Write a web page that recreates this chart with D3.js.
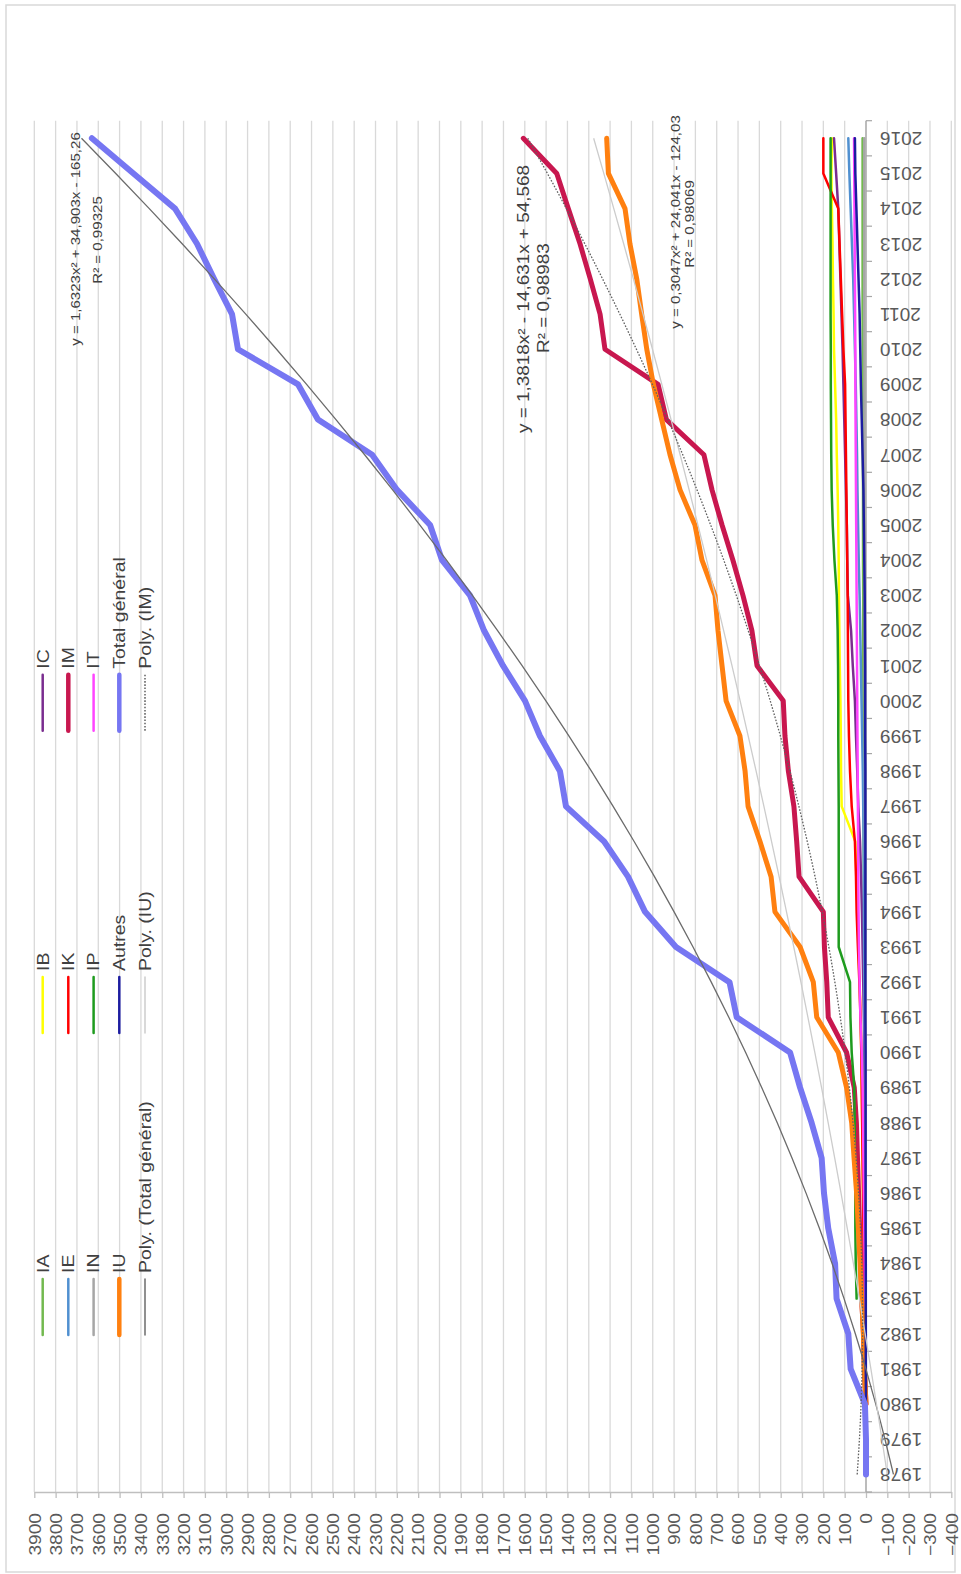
<!DOCTYPE html>
<html>
<head>
<meta charset="utf-8">
<script src="https://cdn.jsdelivr.net/npm/d3@7"></script>
<style>
body { margin: 0; background: #fff; }
svg { display: block; }
text { font-family: "Liberation Sans", Arial, sans-serif; }
</style>
</head>
<body>
<svg id="chart"></svg>
<script>
// categories (x of the original chart, shown vertically)
var years = [1978, 1979, 1980, 1981, 1982, 1983, 1984, 1985, 1986, 1987,
    1988, 1989, 1990, 1991, 1992, 1993, 1994, 1995, 1996, 1997,
    1998, 1999, 2000, 2001, 2002, 2003, 2004, 2005, 2006, 2007,
    2008, 2009, 2010, 2011, 2012, 2013, 2014, 2015, 2016];

// series, one value per year (null = no point)
var IA = [null, null, 0, 2, 3, 4, 5, 5, 6, 6, 7, 7, 8, 8, 9, 9, 10, 10, 11, 11,
    12, 12, 12, 13, 13, 13, 14, 14, 14, 15, 15, 15, 15, 16, 16, 16, 16, 16, 16];
var IB = [null, null, 0, 3, 5, 8, 10, 12, 14, 16, 18, 20, 22, 25, 30, 35, 40, 45, 50, 114,
    117, 118, 120, 123, 125, 127, 128, 130, 133, 137, 140, 145, 150, 152, 155, 157, 160, 162, 160];
var IC = [null, null, 0, 1, 1, 2, 2, 3, 3, 4, 5, 6, 8, 10, 13, 16, 19, 23, 28, 36,
    41, 47, 52, 62, 70, 85, 88, 90, 94, 98, 102, 106, 110, 115, 120, 125, 130, 140, 150];
var IE = [null, null, 0, 1, 1, 2, 2, 3, 3, 4, 4, 5, 6, 7, 8, 9, 10, 10, 11, 13,
    15, 18, 21, 24, 27, 30, 34, 37, 40, 42, 45, 48, 52, 56, 60, 66, 72, 78, 83];
var IK = [null, null, 0, 4, 6, 8, 10, 12, 14, 16, 18, 20, 22, 26, 31, 38, 44, 47, 52, 67,
    75, 80, 83, 84, 85, 86, 88, 90, 92, 94, 96, 98, 106, 112, 118, 124, 130, 200, 200];
var IM = [null, null, 0, 8, 12, 20, 25, 30, 35, 40, 45, 55, 91, 177, 184, 195, 200, 314, 325, 338,
    364, 380, 388, 511, 535, 577, 624, 675, 722, 760, 936, 975, 1224, 1247, 1293, 1341, 1396, 1450, 1607];
var IN = [null, null, 0, 1, 1, 1, 2, 2, 2, 2, 3, 3, 3, 3, 4, 4, 4, 4, 5, 5,
    5, 5, 5, 6, 6, 6, 6, 6, 7, 7, 7, 7, 7, 8, 8, 8, 8, 8, 8];
var IP = [null, null, null, null, null, 44, 48, 50, 50, 52, 53, 55, 67, 73, 75, 128, 128, 128, 128, 128,
    129, 130, 130, 131, 133, 137, 148, 156, 161, 163, 164, 165, 165, 166, 166, 166, 166, 166, 166];
var IT = [null, null, 0, 2, 3, 5, 6, 8, 10, 12, 14, 16, 20, 26, 30, 33, 35, 36, 37, 38,
    39, 40, 41, 42, 43, 44, 45, 46, 47, 48, 49, 50, 50, 51, 52, 53, 54, 55, 56];
var IU = [null, null, 0, 8, 12, 20, 28, 36, 44, 56, 67, 91, 130, 231, 247, 309, 427, 445, 497, 553,
    567, 591, 656, 675, 694, 708, 769, 802, 872, 919, 958, 997, 1028, 1052, 1075, 1107, 1130, 1208, 1216];
var Autres = [null, null, 0, 1, 1, 1, 1, 2, 2, 2, 2, 2, 2, 3, 3, 3, 3, 3, 3, 3,
    3, 4, 4, 4, 5, 6, 8, 10, 12, 16, 20, 24, 27, 30, 35, 40, 45, 50, 52];
var Total = [0, 0, 5, 72, 83, 138, 145, 177, 197, 208, 255, 309, 356, 606, 640, 891, 1036, 1116, 1228, 1407,
    1435, 1529, 1599, 1702, 1791, 1857, 1988, 2044, 2199, 2316, 2570, 2663, 2945, 2973, 3057, 3137, 3240, 3435, 3630];

// polynomial trendlines as printed on the chart (a, b, c of a*x^2 + b*x + c, x = 1..39)
var polyTotal = [1.6323, 34.903, -165.26];
var polyIU = [0.3047, 24.041, -124.03];
var polyIM = [1.3818, -14.631, 54.568];

var seriesNames = ["IA", "IB", "IC", "IE", "IK", "IM", "IN", "IP", "IT", "IU", "Autres", "Total général"];
var seriesValues = [IA, IB, IC, IE, IK, IM, IN, IP, IT, IU, Autres, Total];
var seriesColors = ["#72b94f", "#ffff00", "#7a2d8f", "#5090d0", "#ff0000", "#c8174f",
    "#a6a6a6", "#1e9b1e", "#ff44ff", "#ff8010", "#1c1ca0", "#7676f2"];
var seriesWidths = [2.5, 2.5, 2.5, 2.5, 2.5, 5, 2.5, 2.5, 2.5, 5, 2.5, 6];

var trendNames = ["Poly. (Total général)", "Poly. (IU)", "Poly. (IM)"];
var trendCoefs = [polyTotal, polyIU, polyIM];
var trendColors = ["#6b6b6b", "#cccccc", "#606060"];
var trendDash = [null, null, "1.6,1.6"];

var trendLabels = [
    ["y = 1,6323x² + 34,903x - 165,26", "R² = 0,99325"],
    ["y = 1,3818x² - 14,631x + 54,568", "R² = 0,98983"],
    ["y = 0,3047x² + 24,041x - 124,03", "R² = 0,98069"]
];

var svgWidth = 961, svgHeight = 1574;
var plot = { left: 34.3, right: 951.3, top: 120.7, bottom: 1492 };
var stretch = 1.16;

var svg = d3.select("#chart")
    .attr("width", svgWidth)
    .attr("height", svgHeight);

svg.append("rect")
    .attr("x", 6).attr("y", 5)
    .attr("width", 949).attr("height", 1567)
    .attr("fill", "#fff")
    .attr("stroke", "#d9d9d9")
    .attr("stroke-width", 1.5);

// values run horizontally (3900 on the left), years run vertically (1978 at the bottom)
var x = d3.scaleLinear()
    .domain([-400, 3900])
    .range([plot.right, plot.left]);

var y = d3.scalePoint()
    .domain(years)
    .range([plot.bottom, plot.top])
    .padding(0.5);

var valueTicks = d3.range(-400, 3901, 100);

// gridlines
svg.append("g")
    .selectAll("line")
    .data(valueTicks)
    .enter().append("line")
    .attr("x1", function(d) { return x(d); })
    .attr("x2", function(d) { return x(d); })
    .attr("y1", plot.top)
    .attr("y2", plot.bottom)
    .attr("stroke", "#d9d9d9")
    .attr("stroke-width", 1.3);

// value axis
var vAxis = svg.append("g")
    .attr("transform", "translate(0," + plot.bottom + ")")
    .call(d3.axisBottom(x).tickValues(valueTicks).tickSize(6).tickSizeOuter(0).tickFormat(d3.format("d")));
vAxis.select(".domain").attr("stroke", "#bfbfbf").attr("stroke-width", 1.3);
vAxis.selectAll(".tick line").attr("stroke", "#bfbfbf").attr("stroke-width", 1.3);
vAxis.selectAll(".tick text")
    .attr("x", 0).attr("y", 0).attr("dy", "0.35em")
    .attr("text-anchor", "end")
    .attr("transform", "translate(0,21) rotate(-90) scale(" + stretch + ",1)")
    .attr("fill", "#595959")
    .style("font-size", "16.5px");

// year axis, crossing at 0
var step = y.step();
var yAxis = svg.append("g")
    .attr("transform", "translate(" + x(0) + ",0)")
    .call(d3.axisRight(y).tickSize(0).tickSizeOuter(0));
yAxis.select(".domain").remove();
yAxis.append("line")
    .attr("x1", 0).attr("x2", 0)
    .attr("y1", plot.top).attr("y2", plot.bottom)
    .attr("stroke", "#a6a6a6").attr("stroke-width", 1.3);
yAxis.append("g")
    .selectAll("line")
    .data(years.concat([null]))
    .enter().append("line")
    .attr("x1", 0).attr("x2", 6)
    .attr("y1", function(d, i) { return plot.bottom - i * step; })
    .attr("y2", function(d, i) { return plot.bottom - i * step; })
    .attr("stroke", "#a6a6a6").attr("stroke-width", 1.2);
yAxis.selectAll(".tick text")
    .attr("x", 0).attr("dy", "0.35em")
    .attr("text-anchor", "end")
    .attr("transform", "translate(14,0) rotate(180)")
    .attr("fill", "#595959")
    .style("font-size", "19px");

// series lines
var line = d3.line()
    .defined(function(d) { return d.value != null; })
    .x(function(d) { return x(d.value); })
    .y(function(d) { return y(d.year); });

seriesValues.forEach(function(values, i) {
    var pts = years.map(function(yr, j) { return { year: yr, value: values[j] }; });
    svg.append("path")
        .datum(pts)
        .attr("fill", "none")
        .attr("stroke", seriesColors[i])
        .attr("stroke-width", seriesWidths[i])
        .attr("stroke-linejoin", "round")
        .attr("stroke-linecap", "round")
        .attr("d", line);
});

// trendlines
var trendLine = d3.line()
    .curve(d3.curveNatural)
    .x(function(d) { return x(d.value); })
    .y(function(d) { return y(d.year); });

trendCoefs.forEach(function(c, i) {
    var pts = years.map(function(yr, j) {
        var n = j + 1;
        return { year: yr, value: c[0] * n * n + c[1] * n + c[2] };
    });
    svg.append("path")
        .datum(pts)
        .attr("fill", "none")
        .attr("stroke", trendColors[i])
        .attr("stroke-width", 1.3)
        .attr("stroke-dasharray", trendDash[i])
        .attr("d", trendLine);
});

// trendline equations
var labelPos = [
    [[75, 239, 13], [97.7, 240, 13]],
    [[523, 299, 16.3], [543, 298, 16.3]],
    [[675, 222, 13], [689, 224, 13]]
];
trendLabels.forEach(function(pair, i) {
    pair.forEach(function(t, k) {
        var p = labelPos[i][k];
        svg.append("text")
            .attr("transform", "translate(" + p[0] + "," + p[1] + ") rotate(-90) scale(" + stretch + ",1)")
            .attr("text-anchor", "middle")
            .attr("dy", "0.35em")
            .attr("fill", "#404040")
            .style("font-size", p[2] + "px")
            .text(t);
    });
});

// legend: three groups, five rows each
var legendItems = [];
seriesNames.forEach(function(n, i) {
    legendItems.push({ name: n, color: seriesColors[i], width: Math.min(seriesWidths[i], 4.5), dash: null });
});
trendNames.forEach(function(n, i) {
    legendItems.push({ name: n, color: trendColors[i], width: 1.5, dash: trendDash[i] });
});

var groupBottom = [1335, 1033, 730.7];
var rowX = [42.7, 68.3, 93.6, 119.3, 145];
var legend = svg.append("g");
legendItems.forEach(function(item, i) {
    var row = Math.floor(i / 3), col = i % 3;
    var gx = rowX[row], gy = groupBottom[col];
    legend.append("line")
        .attr("x1", gx).attr("x2", gx)
        .attr("y1", gy).attr("y2", gy - 56)
        .attr("stroke", item.color)
        .attr("stroke-width", item.width)
        .attr("stroke-dasharray", item.dash)
        .attr("stroke-linecap", item.dash ? "butt" : "round");
    legend.append("text")
        .attr("transform", "translate(" + gx + "," + (gy - 62) + ") rotate(-90) scale(" + stretch + ",1)")
        .attr("dy", "0.35em")
        .attr("fill", "#404040")
        .style("font-size", "16.8px")
        .text(item.name);
});
</script>
</body>
</html>
